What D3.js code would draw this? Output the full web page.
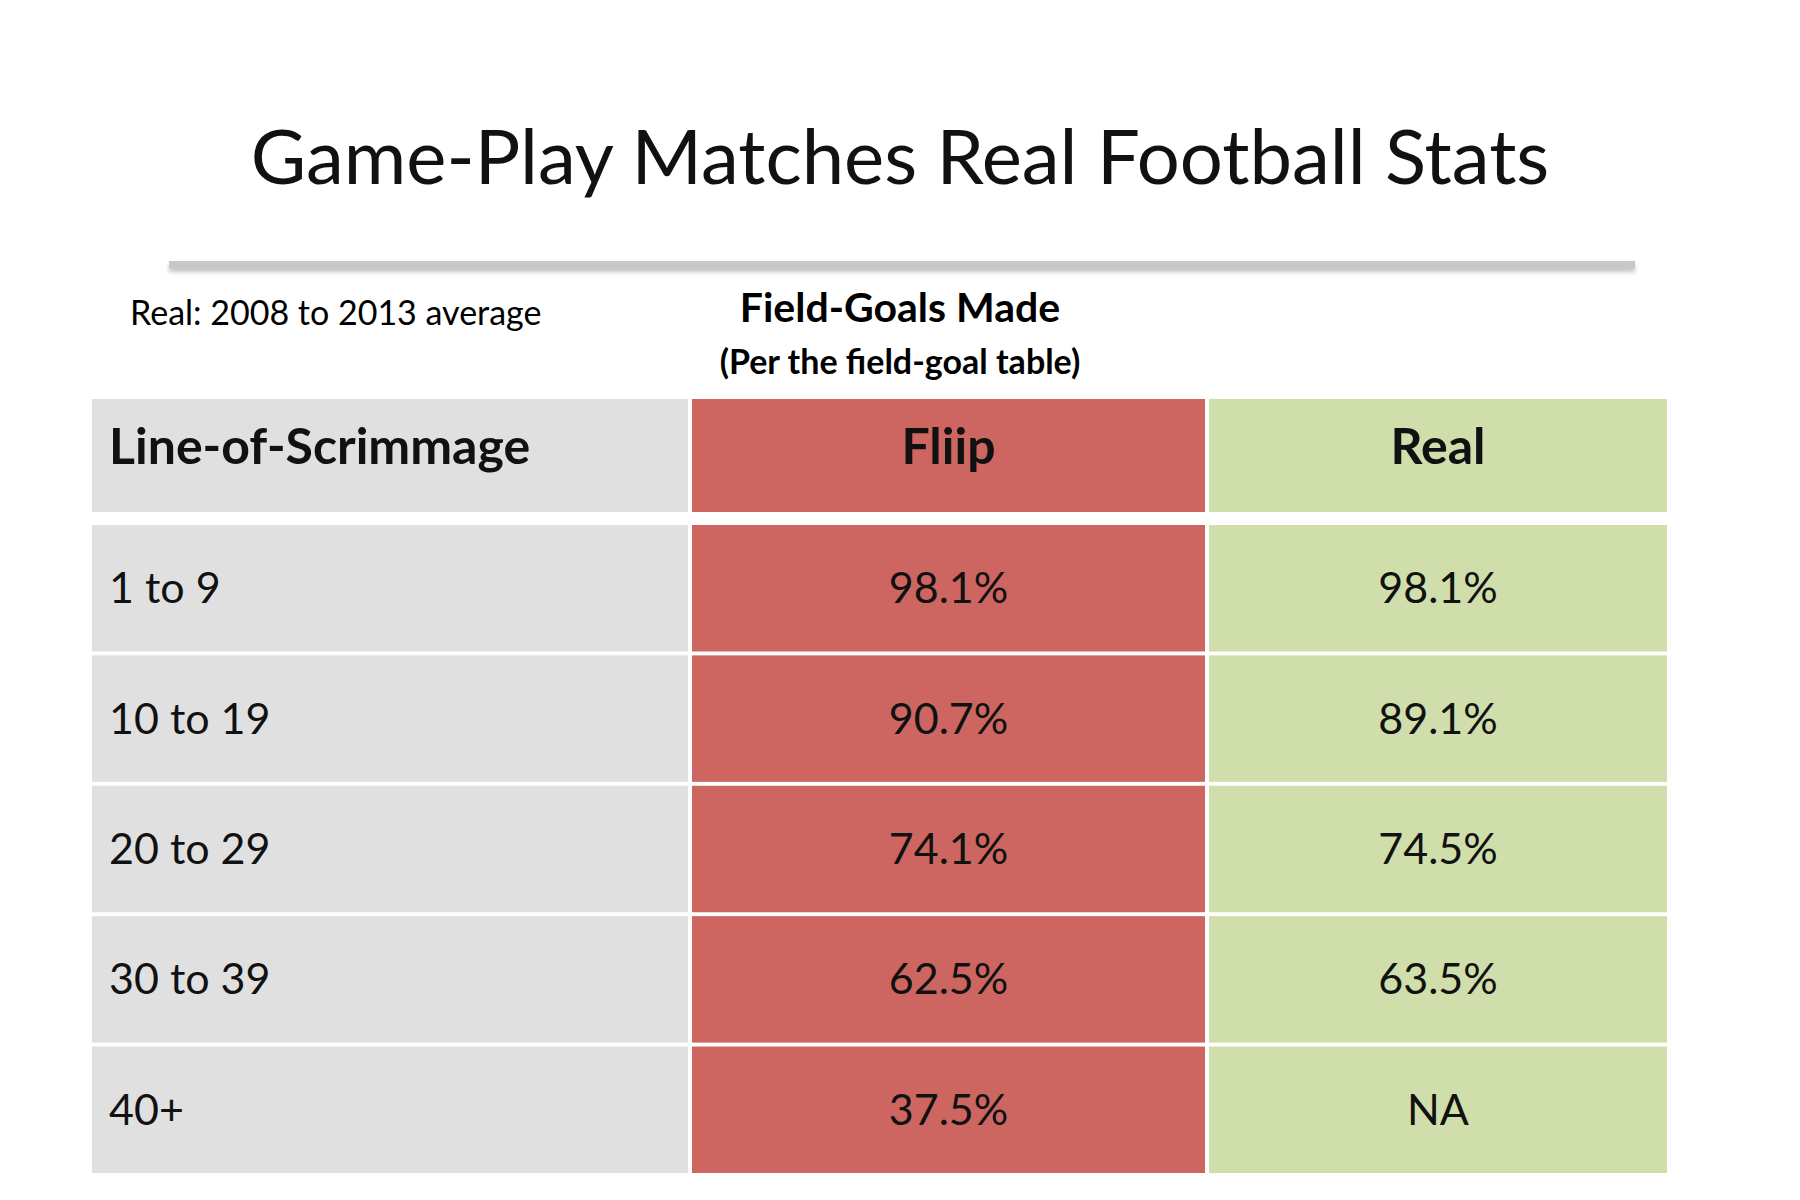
<!DOCTYPE html>
<html><head><meta charset="utf-8">
<script src="https://cdn.jsdelivr.net/npm/d3@7"></script>
<style>body{margin:0;background:#fff}svg{font-family:Lato,"Open Sans",sans-serif}</style>
</head><body><div id="chart"></div>
<script>
var ranges = ["1 to 9", "10 to 19", "20 to 29", "30 to 39", "40+"];
var fliip = [98.1, 90.7, 74.1, 62.5, 37.5];
var real = [98.1, 89.1, 74.5, 63.5, null];
var headers = ["Line-of-Scrimmage", "Fliip", "Real"];
var colFills = ["#e0e0e0", "#cd6661", "#d0deab"];

var w = 1800, h = 1200;
var svg = d3.select("#chart").append("svg").attr("width", w).attr("height", h);

// title
svg.append("text").attr("x", 900).attr("y", 184).attr("text-anchor", "middle")
  .attr("font-size", 76).attr("fill", "#111").text("Game-Play Matches Real Football Stats");

var defs = svg.append("defs");
var f = defs.append("filter").attr("id", "sh").attr("y", "-100%").attr("height", "400%");
f.append("feDropShadow").attr("dx", 0).attr("dy", 4).attr("stdDeviation", 2).attr("flood-color", "#999").attr("flood-opacity", 0.6);
svg.append("rect").attr("x", 169).attr("y", 261).attr("width", 1466).attr("height", 7)
  .attr("fill", "#c8c8c8").attr("filter", "url(#sh)");

svg.append("text").attr("x", 130).attr("y", 325).attr("font-size", 34).text("Real: 2008 to 2013 average");
svg.append("text").attr("x", 900).attr("y", 322).attr("text-anchor", "middle")
  .attr("font-size", 41).attr("font-weight", "bold").text("Field-Goals Made");
svg.append("text").attr("x", 900).attr("y", 374).attr("text-anchor", "middle")
  .attr("font-size", 34).attr("font-weight", "bold").text("(Per the field-goal table)");

// columns
var colEdges = [92, 690, 1207, 1667];
var cols = [0, 1, 2].map(function(i) { return {x0: colEdges[i] + (i ? 2 : 0), x1: colEdges[i + 1] - (i < 2 ? 2 : 0)}; });

// header row
cols.forEach(function(c, i) {
  svg.append("rect").attr("x", c.x0).attr("y", 399).attr("width", c.x1 - c.x0).attr("height", 113).attr("fill", colFills[i]);
  svg.append("text").attr("x", i ? (c.x0 + c.x1) / 2 : 109).attr("y", 464)
    .attr("text-anchor", i ? "middle" : "start").attr("font-size", 50).attr("font-weight", "bold")
    .attr("fill", "#111").text(headers[i]);
});

var y = d3.scaleBand().domain(ranges).range([525, 1173]).paddingInner(0.03);
var rows = svg.selectAll("g.row").data(ranges).enter().append("g").attr("class", "row")
  .attr("transform", function(d) { return "translate(0," + y(d) + ")"; });

cols.forEach(function(c, i) {
  rows.append("rect").attr("x", c.x0).attr("width", c.x1 - c.x0).attr("height", y.bandwidth()).attr("fill", colFills[i]);
  rows.append("text").attr("x", i ? (c.x0 + c.x1) / 2 : 109).attr("y", y.bandwidth() / 2 + 15)
    .attr("text-anchor", i ? "middle" : "start").attr("font-size", 43).attr("fill", "#111")
    .text(function(d, j) {
      if (i === 0) return d;
      var v = (i === 1 ? fliip : real)[j];
      return v == null ? "NA" : v.toFixed(1) + "%";
    });
});
</script></body></html>
